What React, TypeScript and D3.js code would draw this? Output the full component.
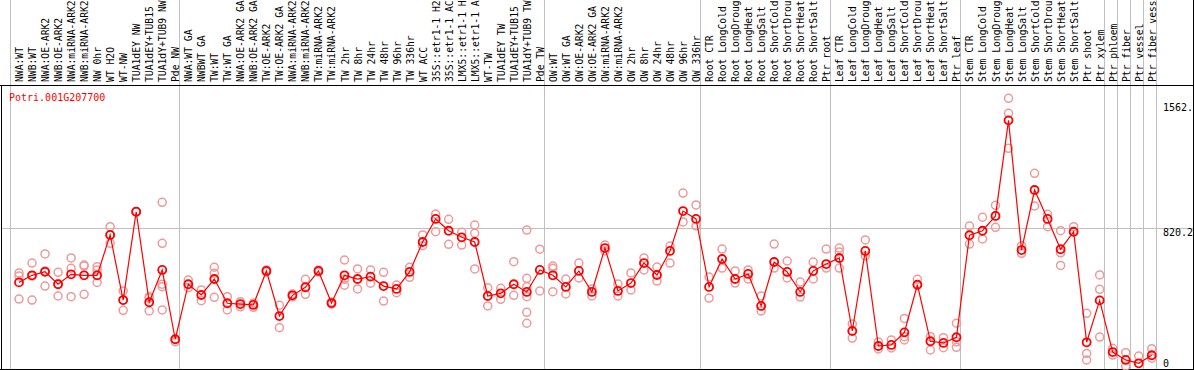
import React from "react";
import * as d3 from "d3";

const title = "Potri.001G207700";

const categories = [
  "NWA:WT", "NWB:WT", "NWA:OE-ARK2", "NWB:OE-ARK2", "NWA:miRNA-ARK2", "NWB:miRNA-ARK2", "NW 0hr", "WT H2O", "WT-NW", "TUA1dEY NW", "TUA1dEY+TUB15 NW", "TUA1dY+TUB9 NW", "Pde NW",
  "NWA:WT GA", "NWBWT GA", "TW:WT", "TW:WT GA", "NWA:OE-ARK2 GA", "NWB:OE-ARK2 GA", "TW:OE-ARK2", "TW:OE-ARK2 GA", "NWA:miRNA-ARK2 GA", "NWB:miRNA-ARK2 GA", "TW:miRNA-ARK2", "TW:miRNA-ARK2 GA", "TW 2hr", "TW 8hr", "TW 24hr", "TW 48hr", "TW 96hr", "TW 336hr", "WT ACC", "35S::etr1-1 H2O", "35S::etr1-1 ACC", "LMX5::etr1-1 H2O", "LMX5::etr1-1 ACC", "WT-TW", "TUA1dEY TW", "TUA1dEY+TUB15 TW", "TUA1dY+TUB9 TW", "Pde TW",
  "OW:WT", "OW:WT GA", "OW:OE-ARK2", "OW:OE-ARK2 GA", "OW:miRNA-ARK2", "OW:miRNA-ARK2 GA", "OW 2hr", "OW 8hr", "OW 24hr", "OW 48hr", "OW 96hr", "OW 336hr",
  "Root CTR", "Root LongCold", "Root LongDrought", "Root LongHeat", "Root LongSalt", "Root ShortCold", "Root ShortDrought", "Root ShortHeat", "Root ShortSalt", "Ptr root",
  "Leaf CTR", "Leaf LongCold", "Leaf LongDrought", "Leaf LongHeat", "Leaf LongSalt", "Leaf ShortCold", "Leaf ShortDrought", "Leaf ShortHeat", "Leaf ShortSalt", "Ptr leaf",
  "Stem CTR", "Stem LongCold", "Stem LongDrought", "Stem LongHeat", "Stem LongSalt", "Stem ShortCold", "Stem ShortDrought", "Stem ShortHeat", "Stem ShortSalt", "Ptr shoot", "Ptr xylem",
  "Ptr phloem", "Ptr fiber", "Ptr vessel", "Ptr fiber vessel",
];

// index of the first category of each group (a grey separator is drawn before it)
const groupStarts = [0, 13, 41, 53, 63, 73, 84, 85, 86, 87, 88];

const means = [
  497, 539, 560, 486, 545, 539, 539, 779, 392, 917, 379, 571, 159,
  486, 422, 517, 373, 368, 363, 565, 297, 420, 468, 565, 374, 539, 517, 531, 475, 458, 559, 737, 874, 804, 765, 737, 416, 432, 486, 440, 571,
  539, 470, 565, 440, 701, 446, 493, 612, 541, 684, 921, 874,
  470, 636, 517, 547, 357, 618, 559, 440, 565, 606,
  642, 208, 684, 119, 125, 200, 483, 147, 137, 171,
  777, 804, 892, 1460, 689, 1046, 874, 694, 798, 141, 390,
  83, 36, 16, 64,
];

const replicates = [
  [553, 535, 398], [612, 535, 392], [666, 565, 475], [557, 487, 416], [642, 581, 412], [600, 594, 426], [590, 571, 497], [828, 779, 729], [446, 392, 331], [917, 917, 917], [412, 404, 327], [973, 729, 486, 471, 333], [159, 144],
  [511, 465], [452, 388], [587, 551, 408], [412, 333], [382, 352], [374, 349], [571, 559], [361, 228], [412, 428], [515, 426], [571, 559], [380, 368], [630, 515, 480], [577, 458], [571, 492], [557, 386], [481, 436], [587, 527], [779, 715], [903, 798], [872, 723], [795, 719], [838, 789, 577], [465, 357], [462, 396], [620, 420], [808, 521, 471, 412, 319, 254], [694, 446],
  [594, 581, 442], [517, 428], [612, 523], [458, 416], [719, 684], [487, 416], [553, 452], [642, 571], [588, 505], [713, 612], [1028, 856], [957, 832],
  [529, 404], [695, 582], [565, 493], [571, 517], [416, 327], [725, 582], [624, 523], [499, 410], [618, 517], [695, 582],
  [701, 678, 582], [250, 166], [749, 654], [143, 101], [155, 107], [283, 174, 155], [515, 483], [174, 95], [168, 109], [254, 144, 111],
  [832, 725], [884, 755], [955, 892, 824], [1591, 1502, 1294], [715, 670], [1145, 951], [902, 828], [804, 673, 598], [828, 798], [313, 75, 36], [541, 456, 172],
  [105, 65], [79, 0], [59], [103, 46],
];

const axisTicks = [1562.4, 820.2, 0];
const gridValues = [820.2];

const W = 1194;
const H = 370;
const MONO = "'DejaVu Sans Mono', monospace";

export default function App() {
  const n = categories.length;
  const step = 13.02;
  const x0 = 10;
  const xCol = d3.scaleLinear().domain([0, n]).range([x0, x0 + step * n]);
  const xPt = (i: number) => xCol(i) + 9;
  const y = d3.scaleLinear().domain([0, 820.2]).range([366, 228]);

  const line = d3
    .line<number>()
    .x((_, i) => xPt(i))
    .y((d) => y(d));

  const plotTop = 85;
  const plotBottom = 369;
  const right = 1193;

  return (
    <svg
      width={W}
      height={H}
      style={{ position: "absolute", left: 0, top: 0, background: "#fff" }}
      shapeRendering="crispEdges"
    >
      <rect x={0} y={0} width={W} height={H} fill="#fff" />
      {/* group separators */}
      {groupStarts.map((g) => (
        <line key={"g" + g} x1={Math.round(xCol(g)) + 0.5} x2={Math.round(xCol(g)) + 0.5} y1={0} y2={plotBottom} stroke="#c0c0c0" strokeWidth={1} />
      ))}
      {/* horizontal grid */}
      {gridValues.map((v) => (
        <line key={"h" + v} x1={1} x2={right} y1={Math.round(y(v)) + 0.5} y2={Math.round(y(v)) + 0.5} stroke="#c0c0c0" strokeWidth={1} />
      ))}
      {/* frame */}
      <line x1={0} x2={W} y1={plotTop + 0.5} y2={plotTop + 0.5} stroke="#000" />
      <line x1={0} x2={W} y1={plotBottom + 0.5} y2={plotBottom + 0.5} stroke="#000" />
      <line x1={1.5} x2={1.5} y1={plotTop} y2={plotBottom} stroke="#000" />
      <line x1={right + 0.5} x2={right + 0.5} y1={0} y2={plotBottom} stroke="#000" />

      {/* category labels */}
      {categories.map((c, i) => (
        <text
          key={"c" + i}
          transform={`translate(${xPt(i) + 4},82) rotate(-90)`}
          fontFamily={MONO}
          fontSize={9.7}
          fill="#000"
        >
          {c.slice(0, 14)}
        </text>
      ))}

      {/* title */}
      <text x={9} y={101} fontFamily={MONO} fontSize={10} fill="#ff0000">
        {title}
      </text>

      {/* right axis labels */}
      {axisTicks.map((v) => (
        <text key={"t" + v} x={1163} y={Math.min(y(v), 359) + 7.5} fontFamily={MONO} fontSize={10} fill="#000">
          {String(v).slice(0, 5)}
        </text>
      ))}

      <g shapeRendering="auto">
        {/* replicates */}
        {replicates.map((reps, i) =>
          reps.map((v, j) => (
            <circle key={`r${i}-${j}`} cx={xPt(i)} cy={y(v)} r={4} fill="none" stroke="#ee9a9a" strokeWidth={1.5} />
          ))
        )}
        {/* mean line */}
        <path d={line(means) || ""} fill="none" stroke="#ff0000" strokeWidth={1.2} />
        {/* means */}
        {means.map((v, i) => (
          <circle key={"m" + i} cx={xPt(i)} cy={y(v)} r={4} fill="none" stroke="#ff0000" strokeWidth={1.8} />
        ))}
      </g>
    </svg>
  );
}
